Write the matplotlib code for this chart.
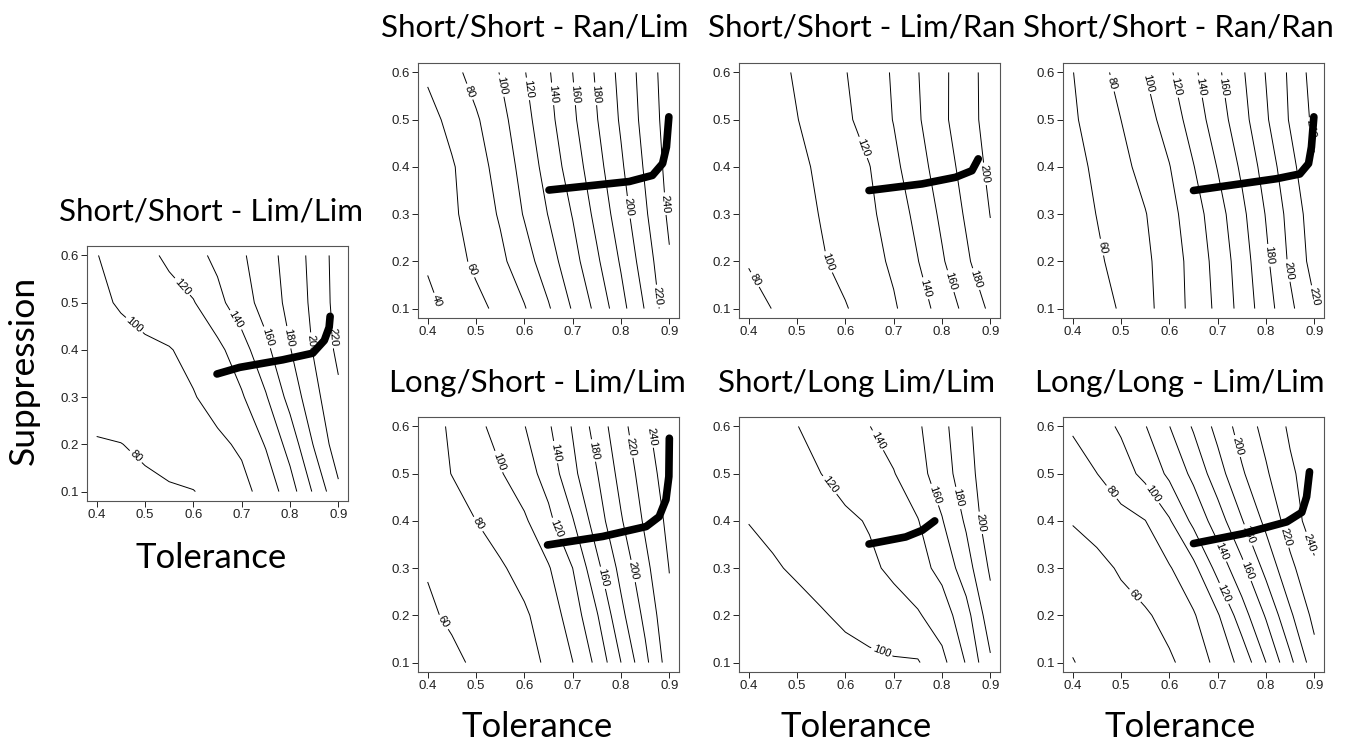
import matplotlib
matplotlib.use("Agg")
import matplotlib.pyplot as plt

# grid of the response surface (suppression rows listed top to bottom)
tolerance = [0.40, 0.45, 0.50, 0.55, 0.60, 0.65, 0.70, 0.75, 0.80, 0.85, 0.90]
suppression = [0.6, 0.5, 0.4, 0.3, 0.2, 0.1]
levels = [40, 60, 80, 100, 120, 140, 160, 180, 200, 220, 240]
x_ticks = [0.4, 0.5, 0.6, 0.7, 0.8, 0.9]
y_ticks = [0.1, 0.2, 0.3, 0.4, 0.5, 0.6]

titles = ["Short/Short - Lim/Lim", "Short/Short - Ran/Lim", "Short/Short - Lim/Ran",
          "Short/Short - Ran/Ran", "Long/Short - Lim/Lim", "Short/Long Lim/Lim",
          "Long/Long - Lim/Lim"]

z_ss_lim_lim = [
    [99.4, 107.2, 115.0, 123.6, 133.6, 144.6, 157.2, 171.8, 187.9, 206.5, 228.3],
    [96.2, 101.8, 107.5, 113.1, 118.8, 134.4, 151.3, 167.9, 185.6, 205.0, 227.7],
    [91.0, 93.6, 96.3, 98.9, 105.6, 114.8, 131.6, 155.1, 179.0, 201.8, 224.5],
    [85.0, 88.5, 91.9, 95.4, 98.8, 107.1, 117.8, 138.2, 166.9, 194.2, 216.0],
    [79.0, 79.7, 82.7, 87.2, 91.7, 96.2, 102.9, 121.5, 147.7, 181.8, 211.2],
    [74.0, 75.4, 76.7, 78.1, 79.5, 85.5, 94.3, 107.2, 130.9, 163.2, 196.0],
]
z_ss_ran_lim = [
    [63.0, 74.0, 87.4, 100.7, 118.9, 138.1, 160.0, 182.7, 205.4, 228.7, 250.4],
    [53.2, 65.4, 77.6, 93.3, 113.3, 134.0, 156.3, 179.1, 202.5, 226.7, 248.9],
    [44.6, 58.1, 71.6, 87.3, 107.2, 128.0, 149.5, 173.0, 197.1, 222.4, 246.8],
    [44.2, 56.5, 68.9, 82.0, 101.5, 120.8, 141.0, 165.7, 190.5, 217.3, 243.7],
    [42.0, 52.3, 64.0, 75.6, 91.3, 111.3, 132.5, 156.8, 182.2, 210.0, 238.0],
    [35.3, 44.7, 54.2, 65.1, 78.6, 98.0, 121.8, 145.3, 173.2, 201.3, 233.5],
]
z_ss_lim_ran = [
    [85.3, 93.7, 102.2, 110.7, 119.2, 130.1, 142.1, 159.3, 175.5, 191.8, 208.2],
    [82.4, 90.9, 99.5, 108.0, 116.6, 127.7, 140.7, 157.6, 175.6, 191.9, 207.5],
    [82.0, 87.5, 95.5, 103.5, 111.5, 119.5, 135.2, 152.1, 169.8, 187.5, 204.4],
    [83.0, 88.0, 93.2, 100.9, 108.7, 116.4, 128.7, 145.5, 163.8, 182.5, 200.4],
    [81.0, 86.1, 92.1, 98.2, 105.6, 113.6, 123.2, 139.4, 157.8, 176.6, 195.5],
    [74.2, 80.4, 86.5, 92.6, 98.8, 107.9, 117.8, 131.3, 147.3, 165.5, 183.6],
]
z_ss_ran_ran = [
    [59.5, 73.0, 86.3, 100.0, 117.2, 136.2, 156.7, 177.1, 200.9, 223.5, 248.5],
    [57.3, 68.6, 80.0, 92.5, 108.3, 129.0, 150.2, 172.4, 197.4, 221.8, 244.5],
    [53.1, 63.9, 74.6, 86.4, 99.2, 119.2, 140.9, 163.4, 188.4, 213.7, 238.0],
    [51.0, 60.4, 69.7, 79.1, 93.4, 110.8, 131.8, 155.2, 181.1, 206.8, 231.2],
    [47.3, 56.9, 66.5, 76.2, 89.7, 106.9, 127.1, 150.2, 176.2, 203.4, 227.8],
    [43.0, 50.2, 62.4, 74.6, 89.0, 105.7, 124.5, 147.4, 171.0, 195.9, 218.0],
]
z_ls_lim_lim = [
    [71.2, 83.1, 95.0, 107.1, 119.3, 137.4, 161.6, 188.4, 213.3, 236.4, 254.0],
    [71.4, 80.4, 89.4, 98.4, 111.2, 127.7, 155.0, 179.1, 206.5, 229.1, 250.9],
    [62.9, 71.5, 80.0, 88.5, 97.1, 115.3, 138.6, 170.0, 198.2, 223.1, 245.3],
    [61.0, 66.5, 72.0, 77.6, 86.6, 98.4, 120.0, 154.8, 186.1, 214.6, 240.5],
    [57.6, 62.5, 67.5, 72.4, 77.3, 89.2, 109.2, 138.3, 174.8, 205.0, 236.0],
    [50.4, 56.5, 62.6, 68.7, 74.8, 82.4, 99.7, 124.8, 160.0, 194.9, 230.4],
]
z_sl_lim_lim = [
    [106.2, 112.9, 119.6, 126.3, 133.0, 139.7, 148.4, 157.2, 174.2, 195.0, 215.8],
    [103.0, 107.3, 113.6, 120.0, 126.4, 132.7, 139.1, 152.8, 170.4, 191.6, 213.8],
    [100.5, 104.6, 108.7, 112.8, 116.9, 121.3, 130.2, 139.1, 158.8, 182.9, 212.4],
    [93.2, 97.9, 102.7, 107.4, 112.1, 116.9, 123.3, 133.0, 145.7, 171.1, 203.0],
    [83.7, 88.6, 93.5, 98.4, 103.3, 108.2, 113.1, 118.0, 130.0, 152.5, 191.7],
    [86.0, 88.0, 90.0, 92.0, 94.0, 96.0, 98.0, 98.5, 114.4, 141.4, 177.0],
]
z_ll_lim_lim = [
    [83.0, 92.2, 102.6, 119.0, 139.6, 162.3, 186.3, 208.7, 226.3, 243.0, 254.0],
    [68.0, 79.8, 91.5, 105.2, 124.0, 145.0, 171.4, 197.5, 217.6, 236.9, 250.0],
    [61.5, 67.5, 73.6, 79.6, 98.1, 125.0, 150.0, 178.8, 205.0, 228.9, 251.0],
    [46.1, 54.2, 62.3, 70.3, 78.4, 94.5, 126.7, 154.3, 186.1, 215.4, 236.0],
    [44.0, 48.6, 53.1, 57.7, 66.0, 78.1, 97.9, 130.7, 162.1, 196.7, 225.7],
    [39.5, 44.0, 48.5, 52.9, 57.4, 67.6, 85.8, 106.3, 140.0, 175.0, 211.8],
]

# optimisation paths (tolerance, suppression)
path_x_ss_lim_lim = [0.649, 0.696, 0.785, 0.847, 0.871, 0.881, 0.883]
path_y_ss_lim_lim = [0.349, 0.363, 0.379, 0.393, 0.420, 0.448, 0.471]
path_x_ss_ran_lim = [0.651, 0.817, 0.865, 0.886, 0.894, 0.899]
path_y_ss_ran_lim = [0.351, 0.369, 0.382, 0.407, 0.442, 0.506]
path_x_ss_lim_ran = [0.649, 0.759, 0.828, 0.862, 0.875]
path_y_ss_lim_ran = [0.350, 0.364, 0.378, 0.392, 0.417]
path_x_ss_ran_ran = [0.650, 0.822, 0.870, 0.888, 0.894, 0.899]
path_y_ss_ran_ran = [0.350, 0.375, 0.385, 0.407, 0.442, 0.506]
path_x_ls_lim_lim = [0.648, 0.762, 0.852, 0.879, 0.893, 0.899, 0.900]
path_y_ls_lim_lim = [0.349, 0.367, 0.388, 0.409, 0.445, 0.494, 0.575]
path_x_sl_lim_lim = [0.649, 0.725, 0.759, 0.785]
path_y_sl_lim_lim = [0.351, 0.366, 0.380, 0.400]
path_x_ll_lim_lim = [0.650, 0.753, 0.843, 0.874, 0.884, 0.890]
path_y_ll_lim_lim = [0.352, 0.373, 0.398, 0.418, 0.451, 0.504]

# where the contour labels sit
lab_ss_lim_lim = [(0.50, 0.194), (0.486, 0.462), (0.572, 0.529), (0.685, 0.462),
                  (0.754, 0.427), (0.799, 0.427), (0.843, 0.413), (0.885, 0.427)]
lab_ss_ran_lim = [(0.417, 0.116), (0.493, 0.184), (0.486, 0.559), (0.558, 0.573),
                  (0.613, 0.566), (0.662, 0.555), (0.706, 0.555), (0.751, 0.555),
                  (0.820, 0.315), (0.879, 0.127), (0.891, 0.322)]
lab_ss_lim_ran = [(0.409, 0.159), (0.563, 0.198), (0.639, 0.442), (0.766, 0.143),
                  (0.821, 0.159), (0.869, 0.162), (0.886, 0.385)]
lab_ss_ran_ran = [(0.460, 0.230), (0.481, 0.577), (0.553, 0.577), (0.612, 0.570),
                  (0.663, 0.570), (0.712, 0.570), (0.798, 0.212), (0.843, 0.180),
                  (0.891, 0.124), (0.891, 0.481)]
lab_ls_lim_lim = [(0.438, 0.189), (0.507, 0.395), (0.548, 0.526), (0.666, 0.384),
                  (0.672, 0.547), (0.769, 0.281), (0.748, 0.550), (0.831, 0.295),
                  (0.824, 0.558), (0.866, 0.579)]
lab_sl_lim_lim = [(0.683, 0.143), (0.573, 0.480), (0.670, 0.572), (0.783, 0.455),
                  (0.831, 0.448), (0.875, 0.395)]
lab_ll_lim_lim = [(0.526, 0.239), (0.477, 0.458), (0.563, 0.455), (0.712, 0.246),
                  (0.698, 0.331), (0.760, 0.295), (0.753, 0.366), (0.739, 0.558),
                  (0.839, 0.366), (0.884, 0.352)]

W, H = 1348, 745
AX_W, AX_H = 261, 255
TITLE_FONT = ["Lato", "DejaVu Sans"]
plt.rcParams["font.family"] = ["Liberation Sans", "DejaVu Sans"]

fig = plt.figure(figsize=(W / 100, H / 100), dpi=100)

# left px, top px, title centre px, title baseline px, x label baseline px or None
panels = [
    (titles[0], z_ss_lim_lim, path_x_ss_lim_lim, path_y_ss_lim_lim, lab_ss_lim_lim, 87, 246, 211, 220, 568),
    (titles[1], z_ss_ran_lim, path_x_ss_ran_lim, path_y_ss_ran_lim, lab_ss_ran_lim, 418, 63, 535, 37, None),
    (titles[2], z_ss_lim_ran, path_x_ss_lim_ran, path_y_ss_lim_ran, lab_ss_lim_ran, 739, 63, 862, 37, None),
    (titles[3], z_ss_ran_ran, path_x_ss_ran_ran, path_y_ss_ran_ran, lab_ss_ran_ran, 1063, 63, 1178, 37, None),
    (titles[4], z_ls_lim_lim, path_x_ls_lim_lim, path_y_ls_lim_lim, lab_ls_lim_lim, 418, 417, 537, 392, 737),
    (titles[5], z_sl_lim_lim, path_x_sl_lim_lim, path_y_sl_lim_lim, lab_sl_lim_lim, 739, 417, 856, 392, 737),
    (titles[6], z_ll_lim_lim, path_x_ll_lim_lim, path_y_ll_lim_lim, lab_ll_lim_lim, 1063, 417, 1180, 392, 737),
]

for title, z, px, py, lab, left, top, tx, ty, xl in panels:
    ax = fig.add_axes([left / W, 1 - (top + AX_H) / H, AX_W / W, AX_H / H])
    cs = ax.contour(tolerance, suppression, z, levels=levels, colors="black", linewidths=0.7)
    ax.clabel(cs, manual=lab, inline=True, inline_spacing=3, fontsize=8, fmt="%d")
    ax.plot(px, py, color="black", lw=5.5, solid_capstyle="round", zorder=5)
    ax.set_xlim(0.38, 0.92)
    ax.set_ylim(0.08, 0.62)
    ax.set_xticks(x_ticks)
    ax.set_yticks(y_ticks)
    ax.set_xticklabels([f"{v:.1f}" for v in x_ticks])
    ax.set_yticklabels([f"{v:.1f}" for v in y_ticks])
    ax.tick_params(labelsize=9.5, length=4, width=0.7, pad=2, colors="#222222")
    for s in ax.spines.values():
        s.set_linewidth(0.8)
        s.set_color("#555555")
    fig.text(tx / W, 1 - ty / H, title, ha="center", va="baseline",
             fontsize=22.5, family=TITLE_FONT)
    if xl is not None:
        fig.text(tx / W, 1 - xl / H, "Tolerance", ha="center", va="baseline",
                 fontsize=25, family=TITLE_FONT)

fig.text(24 / W, 1 - 370 / H, "Suppression", rotation=90, ha="center", va="center",
         fontsize=25.5, family=TITLE_FONT)

fig.savefig("out.png", dpi=100)
